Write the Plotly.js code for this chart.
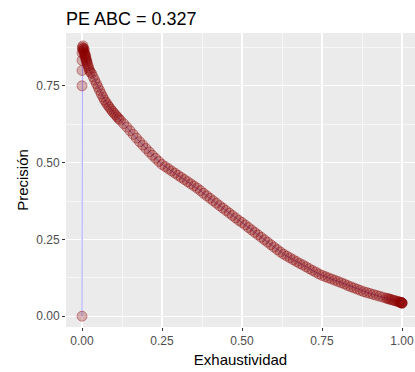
<!DOCTYPE html>
<html>
<head>
<meta charset="utf-8">
<script src="https://cdn.plot.ly/plotly-3.0.1.min.js"></script>
<style>
  html, body { margin: 0; padding: 0; background: #ffffff; }
  #chart { width: 415px; height: 372px; }
</style>
</head>
<body>
<div id="chart"></div>
<script>
// Precision-recall curve: recall (exhaustividad) and precision (precisión) per threshold
const recall = [
  0.000, 0.000, 0.000, 0.000, 0.000, 0.001, 0.002, 0.003, 0.004, 0.005,
  0.006, 0.007, 0.008, 0.009, 0.010, 0.011, 0.012, 0.013, 0.014, 0.015,
  0.017, 0.019, 0.021, 0.023, 0.026,
  0.030, 0.035, 0.040, 0.045, 0.050, 0.055, 0.060, 0.065, 0.070, 0.075,
  0.080, 0.085, 0.090, 0.095, 0.100, 0.105, 0.110, 0.115, 0.120,
  0.13, 0.14, 0.15, 0.16, 0.17, 0.18, 0.19, 0.20, 0.21, 0.22, 0.23, 0.24, 0.25,
  0.26, 0.27, 0.28, 0.29, 0.30, 0.31, 0.32, 0.33, 0.34, 0.35, 0.36, 0.37,
  0.38, 0.39, 0.40, 0.41, 0.42, 0.43, 0.44, 0.45, 0.46, 0.47, 0.48, 0.49, 0.50,
  0.51, 0.52, 0.53, 0.54, 0.55, 0.56, 0.57, 0.58, 0.59, 0.60, 0.61, 0.62,
  0.63, 0.64, 0.65, 0.66, 0.67, 0.68, 0.69, 0.70, 0.71, 0.72, 0.73, 0.74, 0.75,
  0.76, 0.77, 0.78, 0.79, 0.80, 0.81, 0.82, 0.83, 0.84, 0.85, 0.86, 0.87,
  0.88, 0.89, 0.90, 0.91, 0.92, 0.93, 0.94, 0.95, 0.955, 0.96, 0.965, 0.97,
  0.975, 0.98, 0.985, 0.99, 0.9925, 0.995, 0.9975, 0.999, 1.000, 1.000, 1.000
];
const precision = [
  0.000, 0.750, 0.800, 0.833, 0.857, 0.875, 0.870, 0.880, 0.865, 0.872,
  0.860, 0.868, 0.855, 0.848, 0.852, 0.840, 0.845, 0.835, 0.828, 0.832,
  0.822, 0.815, 0.808, 0.801, 0.795,
  0.790, 0.779, 0.768, 0.757, 0.746, 0.735, 0.724, 0.714, 0.704, 0.696,
  0.688, 0.681, 0.674, 0.667, 0.661, 0.655, 0.649, 0.643, 0.638,
  0.627, 0.616, 0.604, 0.592, 0.580, 0.568, 0.557, 0.546, 0.535, 0.524, 0.514, 0.504, 0.494,
  0.487, 0.480, 0.473, 0.466, 0.459, 0.452, 0.445, 0.438, 0.431, 0.424, 0.417, 0.409,
  0.400, 0.392, 0.384, 0.376, 0.368, 0.360, 0.352, 0.344, 0.336, 0.328, 0.320, 0.312, 0.305,
  0.297, 0.289, 0.281, 0.273, 0.265, 0.257, 0.249, 0.241, 0.233, 0.225, 0.217, 0.209,
  0.202, 0.196, 0.190, 0.184, 0.178, 0.172, 0.167, 0.161, 0.155, 0.149, 0.144, 0.138, 0.133,
  0.129, 0.125, 0.121, 0.117, 0.113, 0.109, 0.105, 0.100, 0.096, 0.092, 0.088, 0.084,
  0.080, 0.077, 0.074, 0.071, 0.068, 0.065, 0.062, 0.059, 0.0575, 0.056, 0.0545, 0.053,
  0.0515, 0.050, 0.0485, 0.047, 0.046, 0.045, 0.0445, 0.044, 0.044, 0.043, 0.042
];

const chartTitle = 'PE ABC = 0.327';
const xTitle = 'Exhaustividad';
const yTitle = 'Precisión';
const tickValues = [0, 0.25, 0.5, 0.75, 1];
const tickLabels = ['0.00', '0.25', '0.50', '0.75', '1.00'];
const minorValues = [0.125, 0.375, 0.625, 0.875];

const FONT = 'Liberation Sans, Arial, sans-serif';

const traces = [
  {
    x: recall, y: precision,
    type: 'scatter', mode: 'lines',
    line: { color: 'rgba(0,0,255,0.4)', width: 1 },
    hoverinfo: 'skip'
  },
  {
    x: recall, y: precision,
    type: 'scatter', mode: 'markers',
    marker: {
      size: 10,
      color: 'rgba(139,0,0,0.27)',
      line: { color: 'rgba(139,0,0,0.4)', width: 1 }
    }
  }
];

function axisStyle(extra) {
  return Object.assign({
    tickmode: 'array',
    tickvals: tickValues,
    ticktext: tickLabels,
    ticks: 'outside',
    ticklen: 3,
    tickwidth: 1,
    tickcolor: '#333333',
    tickfont: { family: FONT, size: 12, color: '#4D4D4D' },
    showgrid: true,
    gridcolor: '#FFFFFF',
    gridwidth: 1.1,
    zeroline: false,
    showline: false,
    minor: {
      tickmode: 'array',
      tickvals: minorValues,
      showgrid: true,
      gridcolor: '#FFFFFF',
      gridwidth: 0.6,
      ticks: ''
    }
  }, extra);
}

const layout = {
  width: 415,
  height: 372,
  showlegend: false,
  paper_bgcolor: '#FFFFFF',
  plot_bgcolor: '#EBEBEB',
  margin: { l: 66, r: 0, t: 33, b: 45 },
  title: {
    text: chartTitle,
    font: { family: FONT, size: 18, color: '#000000' },
    xref: 'container', x: 66 / 415, xanchor: 'left',
    yref: 'container', y: 1 - 18.5 / 372, yanchor: 'middle'
  },
  xaxis: axisStyle({
    range: [-0.05, 1.0406],
    title: { text: xTitle, font: { family: FONT, size: 15, color: '#000000' }, standoff: 7 }
  }),
  yaxis: axisStyle({
    range: [-0.035, 0.922],
    title: { text: yTitle, font: { family: FONT, size: 15, color: '#000000' }, standoff: 3 }
  })
};

Plotly.newPlot('chart', traces, layout, { displayModeBar: false, staticPlot: true });
</script>
</body>
</html>
